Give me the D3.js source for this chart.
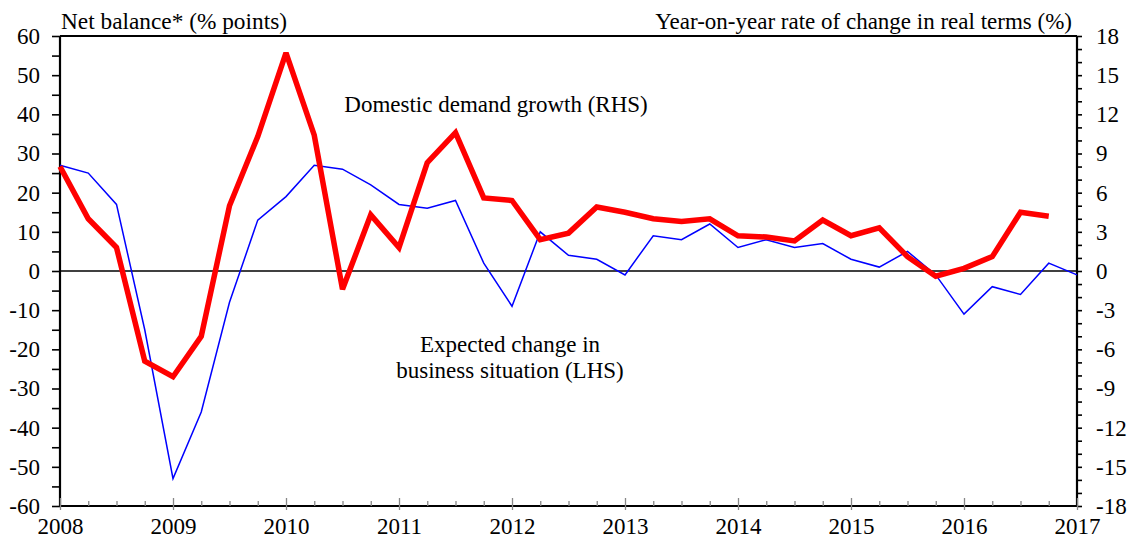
<!DOCTYPE html>
<html>
<head>
<meta charset="utf-8">
<script src="https://cdn.jsdelivr.net/npm/d3@7"></script>
<style>
  body { margin: 0; background: #fff; }
  svg text { font-family: "Liberation Serif", "Times New Roman", serif; fill: #000; }
</style>
</head>
<body>
<svg id="chart"></svg>
<script>
(function() {

    // Data (quarterly, from 2008 Q1)
    const startYear = 2008;
    // Expected change in business situation, net balance (LHS)
    const businessSituation = [27, 25, 17, -15, -53, -36, -8, 13, 19, 27, 26, 22, 17, 16, 18, 2,
        -9, 10, 4, 3, -1, 9, 8, 12, 6, 8, 6, 7, 3, 1, 5, -1, -11, -4, -6, 2, -1];
    // Domestic demand growth, y-o-y % (RHS)
    const domesticDemand = [8.0, 4.0, 1.8, -6.9, -8.1, -5.0, 5.0, 10.3, 16.7, 10.4, -1.4, 4.3, 1.8, 8.3, 10.6, 5.6,
        5.4, 2.4, 2.9, 4.9, 4.5, 4.0, 3.8, 4.0, 2.7, 2.6, 2.3, 3.9, 2.7, 3.3, 1.1, -0.4, 0.2, 1.1, 4.5, 4.2];

    const w = 1137;
    const h = 541;
    const left = 60, right = 1077, top = 36, bottom = 506;
    const fontSize = '23px';

    const svg = d3.select('#chart')
        .attr('width', w)
        .attr('height', h);

    // Scales
    const scaleX = d3.scaleLinear().domain([2008, 2017]).range([left, right]);
    const scaleY = d3.scaleLinear().domain([-60, 60]).range([bottom, top]);
    const scaleY2 = d3.scaleLinear().domain([-18, 18]).range([bottom, top]);

    const quarter = i => startYear + i / 4;

    // Zero line
    svg.append('line')
        .attr('x1', left).attr('x2', right)
        .attr('y1', scaleY(0)).attr('y2', scaleY(0))
        .attr('stroke', '#000').attr('stroke-width', 1.3);

    // Top border
    svg.append('line')
        .attr('x1', left).attr('x2', right)
        .attr('y1', top).attr('y2', top)
        .attr('stroke', '#000').attr('stroke-width', 2);

    // Left axis
    const yAxis = d3.axisLeft(scaleY)
        .tickValues(d3.range(-60, 61, 5))
        .tickSize(8)
        .tickPadding(12)
        .tickFormat(d => d % 10 === 0 ? d : '');
    const gy = svg.append('g')
        .attr('transform', `translate(${left},0)`)
        .call(yAxis);

    // Right axis
    const yAxis2 = d3.axisRight(scaleY2)
        .tickValues(d3.range(-18, 19, 1))
        .tickSize(5)
        .tickPadding(15)
        .tickFormat(d => d % 3 === 0 ? d : '');
    const gy2 = svg.append('g')
        .attr('transform', `translate(${right},0)`)
        .call(yAxis2);

    // X axis: quarter ticks pointing up, year ticks crossing
    const quarters = d3.range(0, 37).map(quarter);
    const xAxis = d3.axisBottom(scaleX)
        .tickValues(quarters)
        .tickSize(0)
        .tickPadding(12)
        .tickFormat(d => Number.isInteger(d) ? d : '');
    const gx = svg.append('g')
        .attr('transform', `translate(0,${bottom})`)
        .call(xAxis);
    gx.selectAll('.tick line')
        .attr('y1', d => Number.isInteger(d) ? 4 : 0)
        .attr('y2', d => Number.isInteger(d) ? -8 : -5)
        .attr('stroke', '#888')
        .attr('stroke-width', 1.3);

    [gx, gy, gy2].forEach(g => {
        g.select('.domain').attr('stroke', '#000').attr('stroke-width', 2.2);
        g.selectAll('text')
            .style('font-family', '"Liberation Serif", serif')
            .style('font-size', fontSize)
            .attr('fill', '#000');
    });
    gy.selectAll('.tick line').attr('stroke', '#000').attr('stroke-width', 1.6);
    gy2.selectAll('.tick line').attr('stroke', '#000').attr('stroke-width', 1.6);
    gy2.selectAll('.tick text').attr('x', 19);
    gx.select('.domain').attr('d', `M${left},0H${right}`);
    gy.select('.domain').attr('d', `M0,${top}V${bottom}`);
    gy2.select('.domain').attr('d', `M0,${top}V${bottom}`);
    gx.selectAll('.tick text').attr('dy', '0.71em');

    // Lines
    const lineLeft = d3.line()
        .x((d, i) => scaleX(quarter(i)))
        .y(d => scaleY(d));
    const lineRight = d3.line()
        .x((d, i) => scaleX(quarter(i)))
        .y(d => scaleY2(d));

    svg.append('path')
        .datum(businessSituation)
        .attr('d', lineLeft)
        .attr('fill', 'none')
        .attr('stroke', '#0000ff')
        .attr('stroke-width', 1.5)
        .attr('stroke-linejoin', 'miter');

    svg.append('path')
        .datum(domesticDemand)
        .attr('d', lineRight)
        .attr('fill', 'none')
        .attr('stroke', '#ff0000')
        .attr('stroke-width', 5.5)
        .attr('stroke-linejoin', 'miter')
        .attr('stroke-miterlimit', 3);

    // Titles
    svg.append('text')
        .attr('x', 61).attr('y', 29)
        .attr('textLength', 226)
        .attr('lengthAdjust', 'spacingAndGlyphs')
        .style('font-size', fontSize)
        .text('Net balance* (% points)');
    svg.append('text')
        .attr('x', 1072).attr('y', 29)
        .attr('text-anchor', 'end')
        .style('font-size', fontSize)
        .text('Year-on-year rate of change in real terms (%)');

    // Annotations
    svg.append('text')
        .attr('x', 496).attr('y', 112)
        .attr('text-anchor', 'middle')
        .style('font-size', fontSize)
        .text('Domestic demand growth (RHS)');
    svg.append('text')
        .attr('x', 510).attr('y', 352)
        .attr('text-anchor', 'middle')
        .style('font-size', fontSize)
        .text('Expected change in');
    svg.append('text')
        .attr('x', 510).attr('y', 378)
        .attr('text-anchor', 'middle')
        .style('font-size', fontSize)
        .text('business situation (LHS)');

})();
</script>
</body>
</html>
